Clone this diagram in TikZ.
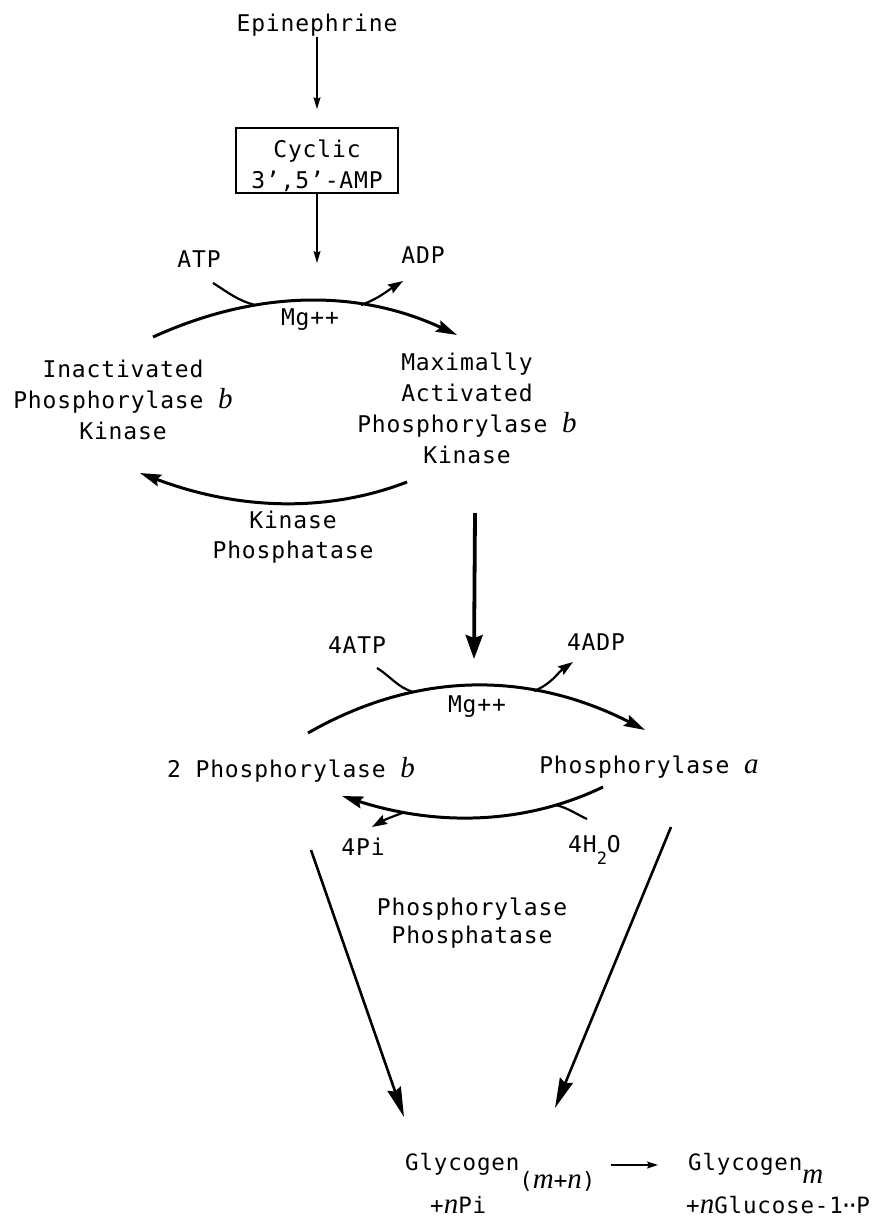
\documentclass[tikz,border=0pt]{standalone}
\usepackage{fontspec}
\setmainfont{DejaVu Sans Mono}[LetterSpace=3.7]
\newfontfamily\varit{Liberation Serif}
\newcommand\iv[1]{{\varit\itshape\fontsize{29}{31}\selectfont #1}}
\usetikzlibrary{arrows.meta}
\newcommand\mlines[1]{\begin{tabular}[t]{@{}c@{}}#1\end{tabular}}
\tikzset{
  lbl/.style={inner sep=0pt, anchor=base, font=\fontsize{23}{31}\selectfont},
  lblw/.style={inner sep=0pt, anchor=base west, font=\fontsize{22.5}{31}\selectfont},
  thinarr/.style={line width=1.6pt, -{Stealth[length=12pt,width=7pt,inset=2pt]}},
  cyc/.style={line width=3pt, -{Stealth[length=21pt,width=12pt,inset=3pt]}},
  side/.style={line width=2.2pt},
  sidearr/.style={line width=2.2pt, -{Stealth[length=15pt,width=10pt,inset=2pt]}},
  bigarr/.style={line width=3.8pt, -{Stealth[length=24pt,width=17pt,inset=3pt]}},
  diag/.style={line width=2.6pt, -{Stealth[length=30pt,width=14pt,inset=3pt]}},
}
\begin{document}
\begin{tikzpicture}[x=1pt,y=-1pt]
\useasboundingbox (0,0) rectangle (887,1231);

% ---- top ----
\node[lbl] (epi) at (317,32) {Epinephrine};
\node[draw, line width=1.6pt, inner sep=0pt, minimum width=162pt, minimum height=65pt,
      font=\fontsize{23}{31}\selectfont] (camp) at (317,160.5)
      {\raisebox{-6pt}[\height][\depth]{\mlines{Cyclic\\3’,5’-AMP}}};
\coordinate (k1) at (317,263);
\draw[thinarr, shorten >=18pt] (epi.south) -- (camp.north);
\draw[thinarr] (camp.south) -- (k1);

% ---- kinase cycle ----
\node[lbl] (atp) at (199,267) {ATP};
\node[lbl] (adp) at (423,263) {ADP};
\node[lbl] (mg1) at (310,325) {Mg++};
\node[lbl] (inact) at (123,377) {\mlines{Inactivated\\Phosphorylase \iv{b}\\Kinase}};
\node[lbl] (maxk) at (467,370) {\mlines{Maximally\\Activated\\Phosphorylase \iv{b}\\Kinase}};
\node[lbl, font=\fontsize{23}{30}\selectfont] (kp) at (293,528) {\mlines{Kinase\\Phosphatase}};

\coordinate (a1s) at (153,337);
\coordinate (a1e) at (457,335);
\draw[cyc] (a1s) .. controls (257,289.7) and (358.3,289) .. (a1e);
\coordinate (atpS) at (213,283);
\coordinate (atpJ) at (255,305);
\draw[side] (atpS) to[out=-32,in=165] (atpJ);
\coordinate (adpJ) at (361,305);
\coordinate (adpE) at (403,281);
\draw[sidearr] (adpJ) to[out=20,in=-148] (adpE);

\coordinate (b1s) at (407,482);
\coordinate (b1e) at (140,473);
\draw[cyc] (b1s) .. controls (326.7,513) and (237.7,510) .. (b1e);

\coordinate (bigS) at (475,513);
\coordinate (bigE) at (474,659);
\draw[bigarr] (bigS) -- (bigE);

% ---- phosphorylase cycle ----
\node[lbl] (atp4) at (357,653) {4ATP};
\node[lbl] (adp4) at (596,650) {4ADP};
\node[lbl] (mg2) at (477,712) {Mg++};
\node[lbl] (phb) at (291,777) {2 Phosphorylase \iv{b}};
\node[lbl] (pha) at (649,773) {Phosphorylase \iv{a}};
\node[lbl] (pi4) at (363,855) {4Pi};
\node[lblw, font=\fontsize{23}{31}\selectfont] (h2o) at (568,852)
      {4H\raisebox{-12pt}{\fontsize{17}{17}\selectfont 2}O};
\node[lbl, font=\fontsize{23}{28}\selectfont] (pp) at (472,915) {\mlines{Phosphorylase\\Phosphatase}};

\coordinate (a2s) at (308,733);
\coordinate (a2e) at (645,730);
\draw[cyc] (a2s) .. controls (415.7,671.3) and (528,670.3) .. (a2e);
\coordinate (atp4S) at (377,668);
\coordinate (atp4J) at (413,692);
\draw[side] (atp4S) to[out=-32,in=162] (atp4J);
\coordinate (adp4J) at (534,691);
\coordinate (adp4E) at (573,662);
\draw[sidearr] (adp4J) to[out=22,in=-145] (adp4E);

\coordinate (b2s) at (603,787);
\coordinate (b2e) at (342,796);
\draw[cyc] (b2s) .. controls (526,824) and (439,827) .. (b2e);
\coordinate (h2oS) at (587,819);
\coordinate (h2oJ) at (556,805);
\draw[side] (h2oS) to[out=155,in=-15] (h2oJ);
\coordinate (piJ) at (405,812);
\coordinate (piE) at (372,827);
\draw[sidearr] (piJ) to[out=200,in=30] (piE);

% ---- to glycogen ----
\coordinate (d1s) at (311,850);
\coordinate (d1e) at (404,1117);
\coordinate (d2s) at (671,827);
\coordinate (d2e) at (555,1108);
\draw[diag] (d1s) -- (d1e);
\draw[diag] (d2s) -- (d2e);

\node[lblw] (g1) at (405,1170) {Glycogen\raisebox{-18pt}{(\iv{m}+\iv{n})}};
\node[lblw] (g1b) at (430,1213) {+\iv{n}Pi};
\node[lblw] (g2) at (688,1170) {Glycogen\raisebox{-13pt}{\iv{m}}};
\node[lblw] (g2b) at (686,1213) {+\iv{n}Glucose-1\makebox[0.6em]{·\kern-0.3em·}P};
\draw[line width=1.4pt, -{Stealth[length=11pt,width=7pt,inset=2pt]}]
  ([shift={(15,-5)}]g1.base east) -- ([shift={(-30,-5)}]g2.base west);
\end{tikzpicture}
\end{document}
